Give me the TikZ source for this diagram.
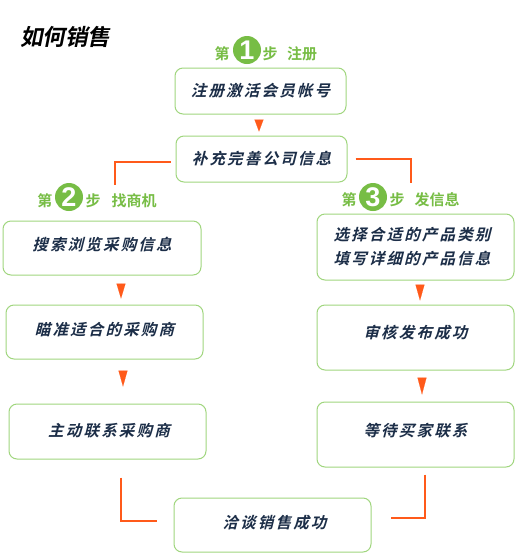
\documentclass[tikz,border=0pt]{standalone}
\usepackage{fontspec}
\usepackage{xcolor}
\usetikzlibrary{arrows.meta,positioning,calc}
\newfontfamily\titlefont[FakeSlant=0.2]{Noto Sans CJK SC Bold}
\newfontfamily\boxfont[FakeSlant=0.25,LetterSpace=14]{Noto Sans CJK SC Bold}
\newfontfamily\headfont{Noto Sans CJK SC Bold}
\setsansfont{Liberation Sans}
\definecolor{boxgreen}{HTML}{A0D67E}
\definecolor{headgreen}{HTML}{77BD45}
\definecolor{linered}{HTML}{FF5A1A}
\definecolor{textnavy}{HTML}{1C2E48}

\begin{document}
\begin{tikzpicture}[x=1pt,y=-1pt,
  box/.style={draw=boxgreen,line width=1pt,rounded corners=8pt,align=center,inner sep=0pt,fill=white,
    text=textnavy,font=\boxfont\fontsize{15.5}{24}\selectfont},
  head/.style={text=headgreen,inner sep=0pt,font=\headfont\fontsize{15}{17}\selectfont},
  stepno/.style={circle,fill=headgreen,text=white,minimum size=28pt,inner sep=0pt,
    font=\sffamily\bfseries\fontsize{27}{27}\selectfont},
  arr/.style={-{Triangle[length=#1,width=9pt]},draw=linered,fill=linered,line width=0.1pt},
  elbow/.style={draw=linered,line width=1.3pt}]
\useasboundingbox (0,0) rectangle (524,558);
\fill[white] (0,0) rectangle (524,558);
% ---------- Title ----------
\node[inner sep=0pt,font=\titlefont\fontsize{22.5}{24}\selectfont] (title) at (65,37) {如何销售};
% ---------- Step 1: register ----------
\node[head] (di1) at (222,54) {第};
\node[stepno] (no1) at (247,50) {1};
\node[head] (bu1) at (270,54) {步};
\node[head] (name1) at (302,54) {注册};
\node[box,minimum width=171pt,minimum height=46pt] (reg) at (260.5,91) {注册激活会员帐号};
\node[box,minimum width=171pt,minimum height=46pt] (info) at (261.5,159) {补充完善公司信息};
\draw[arr=12pt] ([xshift=-1.5pt,yshift=-6pt]reg.south) -- ([xshift=-2.5pt,yshift=4pt]info.north);
% ---------- Step 2: find buyers ----------
\node[head] (di2) at (45,201) {第};
\node[stepno] (no2) at (69,197) {2};
\node[head] (bu2) at (93,201) {步};
\node[head] (name2) at (134,201) {找商机};
\node[box,minimum width=198pt,minimum height=54pt,text depth=8pt] (search) at (102,248) {搜索浏览采购信息};
\node[box,minimum width=197pt,minimum height=54pt,text depth=6pt] (target) at (104.5,332) {瞄准适合的采购商};
\node[box,minimum width=197pt,minimum height=55pt,text depth=4pt] (contact) at (107.5,431.5) {\hspace*{3pt}主动联系采购商};
\draw[arr=15pt] ([xshift=19pt,yshift=-9pt]search.south) -- ([xshift=16.5pt,yshift=6pt]target.north);
\draw[arr=16pt] ([xshift=18.5pt,yshift=-12pt]target.south) -- ([xshift=15.5pt,yshift=17pt]contact.north);
% ---------- Step 3: post offers ----------
\node[head] (di3) at (349,200) {第};
\node[stepno] (no3) at (373,197) {3};
\node[head] (bu3) at (397,200) {步};
\node[head] (name3) at (437,200) {发信息};
\node[box,minimum width=197pt,minimum height=66pt] (choose) at (415.5,247) {选择合适的产品类别\hspace*{7pt}\\填写详细的产品信息\hspace*{7pt}};
\node[box,minimum width=197pt,minimum height=65pt,text depth=10.5pt] (audit) at (415.5,337.5) {审核发布成功};
\node[box,minimum width=197pt,minimum height=65pt,text depth=10pt] (wait) at (415.5,434.5) {等待买家联系};
\draw[arr=16pt] ([xshift=4.5pt,yshift=-5pt]choose.south) -- ([xshift=4.5pt,yshift=4pt]audit.north);
\draw[arr=17pt] ([xshift=6.5pt,yshift=-8pt]audit.south) -- ([xshift=6.5pt,yshift=7pt]wait.north);
% ---------- Closing ----------
\node[box,minimum width=197pt,minimum height=54pt,text depth=6pt] (deal) at (272.5,525) {\hspace*{4pt}洽谈销售成功};
% ---------- Elbows stop short of the boxes ----------
\draw[elbow] ([xshift=-5pt,yshift=-3pt]info.west) -| ([xshift=-19pt,yshift=9pt]name2.north);
\draw[elbow] ([xshift=8pt]info.east) -| ([xshift=-26pt,yshift=10pt]name3.north);
\draw[elbow] ([xshift=13.5pt,yshift=-18pt]contact.south) |- ([xshift=-17pt,yshift=4pt]deal.west);
\draw[elbow] ([xshift=9.5pt,yshift=-7pt]wait.south) |- ([xshift=19pt,yshift=7pt]deal.east);
\end{tikzpicture}
\end{document}
